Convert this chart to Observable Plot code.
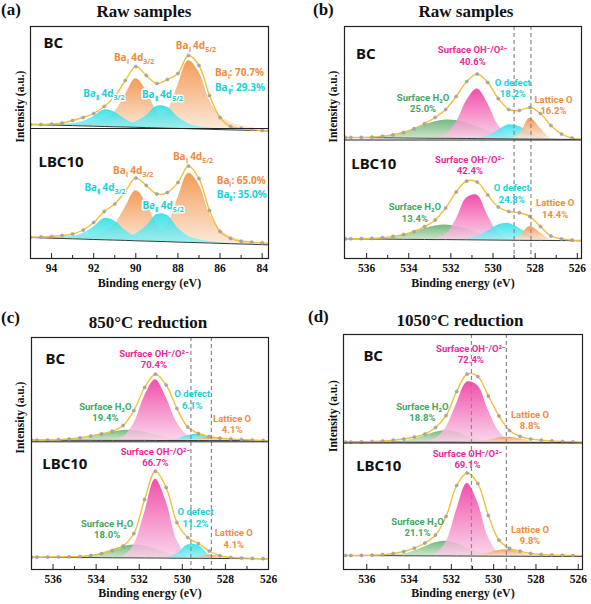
<!DOCTYPE html>
<html><head><meta charset="utf-8">
<script src="https://cdn.jsdelivr.net/npm/d3@7"></script>
<script src="https://cdn.jsdelivr.net/npm/@observablehq/plot@0.6"></script>
<style>
body{margin:0;background:#fff}
#fig{position:relative;width:591px;height:604px;overflow:hidden}
.panel{position:absolute}
.ttl{position:absolute;font-family:'Liberation Serif','Times New Roman',serif;font-weight:bold;font-size:17px;line-height:1;white-space:nowrap;color:#111}
.ctr{transform:translateX(-50%)}
</style></head><body>
<svg width="0" height="0" style="position:absolute"><defs>
<linearGradient id="gOrange" x1="0" y1="0" x2="0" y2="1"><stop offset="0" stop-color="#f28a3c"/><stop offset="1" stop-color="#fde7d6"/></linearGradient>
<linearGradient id="gPink" x1="0" y1="0" x2="0" y2="1"><stop offset="0" stop-color="#ef319c"/><stop offset="1" stop-color="#f9d0e8"/></linearGradient>
<linearGradient id="gGreen" x1="0" y1="0" x2="0" y2="1"><stop offset="0" stop-color="#5dab69"/><stop offset="1" stop-color="#c7e4c4"/></linearGradient>
<linearGradient id="gCyan" x1="0" y1="0" x2="0" y2="1"><stop offset="0" stop-color="#22dde6"/><stop offset="1" stop-color="#9cf0f3"/></linearGradient>
</defs></svg>
<div id="fig">
  <div class="ttl" style="left:1px;top:1px">(a)</div>
  <div class="ttl ctr" style="left:144px;top:3px">Raw samples</div>
  <div class="ttl" style="left:313px;top:1px">(b)</div>
  <div class="ttl ctr" style="left:466px;top:3px">Raw samples</div>
  <div class="ttl" style="left:1px;top:309px">(c)</div>
  <div class="ttl ctr" style="left:148px;top:314px">850°C reduction</div>
  <div class="ttl" style="left:308px;top:308px">(d)</div>
  <div class="ttl ctr" style="left:460px;top:312px">1050°C reduction</div>
</div>
<script>
// ---------- binding-energy grids ----------
const aE = [95,94.5,94,93.5,93,92.5,92,91.5,91,90.5,90,89.5,89,88.5,88,87.5,87,86.5,86,85.5,85,84.5,84,83.5];
const oE = [537,536.75,536.25,535.75,535.25,534.75,534.25,533.75,533.25,532.75,532.25,531.75,531.25,530.75,530.25,529.75,529.25,528.75,528.25,527.75,527.25,526.75,526.25,525.75];

// ---------- (a) Ba 4d, raw samples ----------
const aBC_base   = [134,133.7,133.4,133.2,132.9,132.6,132.3,132,131.7,131.5,131.2,130.9,130.6,130.3,130.1,129.8,129.5,129.2,128.9,128.6,128.4,128.1,127.8,127.5];
const aBC_env    = [134,134,134.5,135.5,138,141,145,152,162,178,192,183,175,179,185,203,193,163,141,132,130,129,128,127.5];
const aBC_BaI52  = [0,0,0,0,0,0,0.5,0.7,1,2,3,5,7,17,43,68,57,29,14,7.5,4.5,2.5,1.5,1];
const aBC_BaI32  = [0,0.3,0.5,0.8,1.2,1.9,3.5,7,15,32,48.5,37,16,7,4.5,2.5,1.5,0.8,0.5,0.3,0,0,0,0];
const aBC_BaII32 = [0.2,0.35,0.6,1.1,2,4.4,9.6,16.5,14.6,7.7,3.3,1.6,0.9,0.5,0.3,0.2,0,0,0,0,0,0,0,0];
const aBC_BaII52 = [0,0,0,0,0,0,0.5,0.8,1.4,2.5,5.5,12,21.7,21,11.4,5,2.4,1.3,0.7,0.4,0.25,0,0,0];
const aLBC_base   = [21,20.7,20.3,20,19.7,19.4,19,18.7,18.4,18.1,17.7,17.4,17.1,16.8,16.4,16.1,15.8,15.5,15.1,14.8,14.5,14.2,13.8,13.5];
const aLBC_env    = [21.2,21.5,22,23,24.5,28.5,36,47,54.5,67,80.5,73,64.5,66,76,92.5,80,48,27,20,17.2,16.3,15.6,15];
const aLBC_BaI52  = [0,0,0,0,0,0,0.5,0.7,1,2,3,5,7,17,44,69,58,29.5,14,7.5,4.5,2.5,1.5,1];
const aLBC_BaI32  = [0,0.3,0.5,0.8,1.2,2,3.6,7.2,15.5,33,50,38,16.5,7.2,4.6,2.6,1.5,0.8,0.5,0.3,0,0,0,0];
const aLBC_BaII32 = [0.3,0.45,0.8,1.4,2.6,5.7,12.4,21.3,18.9,10,4.3,2.1,1.2,0.6,0.4,0.25,0,0,0,0,0,0,0,0];
const aLBC_BaII52 = [0,0,0,0,0,0,0.6,1,1.7,3.1,6.9,15,27,26.2,14.2,6.2,3,1.6,0.9,0.5,0.3,0,0,0];

// ---------- (b) O 1s, raw samples ----------
const bBC_base   = [121,121,120.9,120.8,120.7,120.6,120.5,120.4,120.3,120.2,120.2,120.1,120,119.9,119.8,119.7,119.6,119.5,119.4,119.4,119.3,119.2,119.1,119];
const bBC_env    = [121,121,121.1,121.4,122.2,123.6,126,129.8,135,141,149,162,177,184.5,176,160,149,148,151,145,133,124.5,120.5,119.3];
const bBC_green  = [0,0.1,0.2,0.6,1.5,3.1,5.7,9.2,13.2,16.5,18.3,17.8,15.3,11.6,7.7,4.5,2.3,1.1,0.4,0.15,0,0,0,0];
const bBC_pink   = [0,0,0,0,0,0,0,0,0,0.4,3.5,15.6,37.7,49.5,35,13.5,2.8,0.3,0,0,0,0,0,0];
const bBC_cyan   = [0,0,0,0,0,0,0,0,0,0,0,0,0,0.5,2.8,8.6,14.1,12.5,6,1.5,0.2,0,0,0];
const bBC_orange = [0,0,0,0,0,0,0,0,0,0,0,0,0,0,0,0,0.1,4.6,20.9,10.9,0.7,0,0,0];
const bLBC_base   = [19.7,19.7,19.6,19.5,19.4,19.3,19.2,19.1,19,18.9,18.9,18.8,18.7,18.6,18.5,18.4,18.3,18.2,18.1,18.1,18,17.9,17.8,17.7];
const bLBC_env    = [19.7,19.75,19.9,20.1,20.8,22.1,24,27,31.8,38.5,50.5,66.5,77.5,76.5,63.5,51.5,47,45.8,42,32,22.5,19.6,18.4,18];
const bLBC_green  = [0,0,0.1,0.4,1,2.2,4.4,7.5,10.8,13.5,14.5,13.3,10.5,7,4.1,2,0.9,0.3,0.1,0,0,0,0,0];
const bLBC_pink   = [0,0,0,0,0,0,0,0,0,0.7,5,20.2,41.7,44.6,24.6,7,1,0,0,0,0,0,0,0];
const bLBC_cyan   = [0,0,0,0,0,0,0,0,0,0,0,0.1,0.9,3.4,8.9,15.1,16.8,12.1,5.7,1.8,0.4,0,0,0];
const bLBC_orange = [0,0,0,0,0,0,0,0,0,0,0,0,0,0,0,0,0.1,3.8,14,7.6,0.6,0,0,0];

// ---------- (c) O 1s, 850°C reduction ----------
const cBC_base   = [129.3,129.3,129.3,129.2,129.2,129.2,129.2,129.1,129.1,129.1,129.1,129.1,129,129,129,129,129,128.9,128.9,128.9,128.9,128.8,128.8,128.8];
const cBC_env    = [129.3,129.3,129.4,129.8,130.5,131.7,133.5,135.7,138.3,144,159,182,195.3,184.5,161,142.5,136,133,131.3,130.5,130,129.5,129,128.8];
const cBC_green  = [0,0,0,0.1,0.5,1.3,2.9,5.4,8.2,10,10,8.2,5.4,2.9,1.3,0.5,0.1,0,0,0,0,0,0,0];
const cBC_pink   = [0,0,0,0,0,0,0,0,0.3,3.2,16.6,44.2,60.7,43.1,18,5,1,0,0,0,0,0,0,0];
const cBC_cyan   = [0,0,0,0,0,0,0,0,0,0,0,0,0,0.1,1.2,4.9,6.2,2.5,0.3,0,0,0,0,0];
const cBC_orange = [0,0,0,0,0,0,0,0,0,0,0,0,0,0,0,0.2,1.5,3.2,2.3,0.5,0,0,0,0];
const cLBC_base   = [12.3,12.2,12.2,12.1,12,11.9,11.9,11.8,11.7,11.7,11.6,11.5,11.5,11.4,11.3,11.2,11.2,11.1,11,11,10.9,10.8,10.8,10.7];
const cLBC_env    = [12.3,12.3,12.4,12.5,12.7,13,14,15.9,19,23.5,36,70,98.3,82,47,32,26,18.5,13.8,12,11.5,11.1,10.8,10.7];
const cLBC_green  = [0,0,0,0,0.2,0.7,2,4.5,8,11.4,13,11.9,8.7,5.1,2.4,0.9,0.3,0.1,0,0,0,0,0,0];
const cLBC_pink   = [0,0,0,0,0,0,0,0,0.1,1.5,12.9,45,78.7,56.7,18,2.5,0.2,0,0,0,0,0,0,0];
const cLBC_cyan   = [0,0,0,0,0,0,0,0,0,0,0,0,0,0.5,4.5,13.4,12.8,3.8,0.4,0,0,0,0,0];
const cLBC_orange = [0,0,0,0,0,0,0,0,0,0,0,0,0,0,0,0.1,1.1,2.9,2.3,0.6,0,0,0,0];

// ---------- (d) O 1s, 1050°C reduction ----------
const dBC_base   = [127.5,127.5,127.5,127.4,127.4,127.4,127.4,127.3,127.3,127.3,127.3,127.3,127.2,127.2,127.2,127.2,127.2,127.1,127.1,127.1,127.1,127,127,127];
const dBC_env    = [127.5,127.5,127.6,128,128.5,129.3,130.5,132.5,135.5,142,154,178,195.5,193,173.5,153.5,139,133,130.5,129.3,128.6,128,127.6,127.2];
const dBC_green  = [0,0,0,0,0.1,0.3,1.2,3.2,6.5,10,11.5,10,6.5,3.2,1.2,0.3,0.1,0,0,0,0,0,0,0];
const dBC_pink   = [0,0,0,0,0,0,0,0,0.5,3.4,14.7,38.4,60.2,56.6,32,10.9,2.2,0.3,0,0,0,0,0,0];
const dBC_orange = [0,0,0,0,0,0,0,0,0,0,0,0,0.1,0.5,1.9,4.3,5.1,3.3,1.2,0.2,0,0,0,0];
const dLBC_base   = [14,14,13.9,13.9,13.8,13.8,13.7,13.7,13.6,13.6,13.6,13.5,13.5,13.4,13.4,13.3,13.3,13.3,13.2,13.2,13.1,13.1,13,13];
const dLBC_env    = [14,14,14.1,14.3,14.8,16,18,21.3,26.5,34.5,53,84,96.5,86,54,29.5,21.2,18.3,16,15,14.5,14.2,14,13.8];
const dLBC_green  = [0,0,0,0,0.2,0.6,2,4.9,9.2,13.2,14.7,12.5,8.2,4.2,1.6,0.5,0.1,0,0,0,0,0,0,0];
const dLBC_pink   = [0,0,0,0,0,0,0,0,0.1,1.9,13.6,45.9,72.4,53.4,18.5,3,0.2,0,0,0,0,0,0,0];
const dLBC_orange = [0,0,0,0,0,0,0,0,0,0,0,0,0.1,0.8,3,5.8,6.2,3.6,1.1,0.2,0,0,0,0];

// ---------- ticks, reference lines ----------
const baMajor = [94,92,90,88,86,84], baMinor = [93,91,89,87,85];
const oMajor = [536,534,532,530,528,526], oMinor = [535,533,531,529,527];
const bDashes = [529.0, 528.2], cDashes = [529.6, 528.65], dDashes = [531.05, 529.4];

// ---------- annotations ----------
const aSampleLabels = [{x:94.38,y:211,t:"BC"},{x:94.62,y:92,t:"LBC10"}];
const bSampleLabels = [{x:536.5,y:200,t:"BC"},{x:536.73,y:90,t:"LBC10"}];
const cSampleLabels = [{x:536.35,y:206,t:"BC"},{x:536.5,y:101,t:"LBC10"}];
const dSampleLabels = [{x:536.16,y:209,t:"BC"},{x:536.5,y:99,t:"LBC10"}];

const aPeakLabels = [
  {x:90.06,y:201,c:"orange",a:"middle",parts:[["Ba"],["Ⅰ",1],[" 4d"],["3/2",1]]},
  {x:87.12,y:213,c:"orange",a:"middle",parts:[["Ba"],["Ⅰ",1],[" 4d"],["5/2",1]]},
  {x:91.49,y:165,c:"cyan",a:"middle",halo:1,parts:[["Ba"],["Ⅱ",1],[" 4d"],["3/2",1]]},
  {x:88.71,y:164,c:"cyan",a:"middle",halo:1,parts:[["Ba"],["Ⅱ",1],[" 4d"],["5/2",1]]},
  {x:86.22,y:186,c:"orange",a:"start",parts:[["Ba"],["Ⅰ",1],[": 70.7%"]]},
  {x:86.22,y:171,c:"cyan",a:"start",parts:[["Ba"],["Ⅱ",1],[": 29.3%"]]},
  {x:90.1,y:88,c:"orange",a:"middle",parts:[["Ba"],["Ⅰ",1],[" 4d"],["3/2",1]]},
  {x:87.26,y:102,c:"orange",a:"middle",parts:[["Ba"],["Ⅰ",1],[" 4d"],["5/2",1]]},
  {x:91.44,y:71,c:"cyan",a:"middle",halo:1,parts:[["Ba"],["Ⅱ",1],[" 4d"],["3/2",1]]},
  {x:88.68,y:53,c:"cyan",a:"middle",halo:1,parts:[["Ba"],["Ⅱ",1],[" 4d"],["5/2",1]]},
  {x:86.13,y:78,c:"orange",a:"start",parts:[["Ba"],["Ⅰ",1],[": 65.0%"]]},
  {x:86.13,y:64,c:"cyan",a:"start",parts:[["Ba"],["Ⅱ",1],[": 35.0%"]]}
];
const bPeakLabels = [
  {x:530.97,y:203.3,c:"pink",t:"Surface OH⁻/O²⁻\n40.6%"},
  {x:529.06,y:170.8,c:"cyan",t:"O defect\n18.2%"},
  {x:527.13,y:153.8,c:"orange",t:"Lattice O\n16.2%"},
  {x:533.32,y:155.8,c:"green",t:"Surface H₂O\n25.0%"},
  {x:531.1,y:93.8,c:"pink",t:"Surface OH⁻/O²⁻\n42.4%"},
  {x:529.11,y:65.5,c:"cyan",t:"O defect\n24.8%"},
  {x:527.05,y:50.5,c:"orange",t:"Lattice O\n14.4%"},
  {x:533.71,y:46,c:"green",t:"Surface H₂O\n13.4%"}
];
const cPeakLabels = [
  {x:531.32,y:210.7,c:"pink",t:"Surface OH⁻/O²⁻\n70.4%"},
  {x:529.54,y:170.2,c:"cyan",t:"O defect\n6.1%"},
  {x:527.69,y:145.7,c:"orange",t:"Lattice O\n4.1%"},
  {x:533.57,y:157.8,c:"green",t:"Surface H₂O\n19.4%"},
  {x:531.25,y:112.7,c:"pink",t:"Surface OH⁻/O²⁻\n66.7%"},
  {x:529.39,y:52.3,c:"cyan",t:"O defect\n11.2%"},
  {x:527.61,y:31.2,c:"orange",t:"Lattice O\n4.1%"},
  {x:533.49,y:40.7,c:"green",t:"Surface H₂O\n18.0%"}
];
const dPeakLabels = [
  {x:531.08,y:215.7,c:"pink",t:"Surface OH⁻/O²⁻\n72.4%"},
  {x:533.37,y:157.8,c:"green",t:"Surface H₂O\n18.8%"},
  {x:528.28,y:149.8,c:"orange",t:"Lattice O\n8.8%"},
  {x:531.24,y:110.7,c:"pink",t:"Surface OH⁻/O²⁻\n69.1%"},
  {x:533.6,y:42.7,c:"green",t:"Surface H₂O\n21.1%"},
  {x:528.28,y:34.8,c:"orange",t:"Lattice O\n9.8%"}
];

// ---------- styling ----------
const SERIF = "'Liberation Serif','Times New Roman',serif";
const SANS = "'Noto Sans','Liberation Sans',Arial,sans-serif";
const LABSANS = "Roboto,'Liberation Sans',Arial,sans-serif";
const TEXTC = {orange:"#f28b3d", cyan:"#1ccfd9", pink:"#ec2a9c", green:"#3fa864"};
const FILLC = {orange:"url(#gOrange)", cyan:"url(#gCyan)", pink:"url(#gPink)", green:"url(#gGreen)"};

function compRows(E, base, h) { return E.map((x, i) => ({x, y1: base[i], y2: base[i] + h[i]})); }
function lineRows(E, v) { return E.map((x, i) => ({x, y: v[i]})); }

function richLabels(list) {
  return (index, scales) => {
    const g = d3.create("svg:g").attr("font-family", SANS).attr("font-weight", "bold").attr("font-size", 10);
    for (const L of list) {
      const t = g.append("text").attr("x", scales.x(L.x)).attr("y", scales.y(L.y)).attr("dy", "0.35em")
        .attr("text-anchor", L.a).attr("fill", TEXTC[L.c]);
      if (L.halo) t.attr("stroke", "#fff").attr("stroke-width", 3).attr("paint-order", "stroke").attr("stroke-linejoin", "round");
      let down = false;
      for (const [s, sub] of L.parts) {
        const sp = t.append("tspan").text(s);
        if (sub && !down) { sp.attr("font-size", 7).attr("dy", 3); down = true; }
        else if (sub) { sp.attr("font-size", 7); }
        else if (down) { sp.attr("dy", -3); down = false; }
      }
    }
    return g.node();
  };
}

function makePanel(cfg) {
  const marks = [];
  for (const s of cfg.samples) {
    for (const c of s.comps) {
      marks.push(Plot.areaY(compRows(cfg.E, s.base, c.h), {x: "x", y1: "y1", y2: "y2", fill: FILLC[c.color], fillOpacity: 0.85, curve: "catmull-rom", clip: true}));
    }
    marks.push(Plot.line(lineRows(cfg.E, s.base), {x: "x", y: "y", stroke: "#343c34", strokeWidth: 1, clip: true}));
    marks.push(Plot.line(lineRows(cfg.E, s.env), {x: "x", y: "y", stroke: "#f2c03a", strokeWidth: 1.4, curve: "catmull-rom", clip: true}));
    marks.push(Plot.dot(lineRows(cfg.E, s.env), {x: "x", y: "y", r: 1.6, fill: "#a9a9a9", stroke: "#8c8c8c", strokeWidth: 0.4, clip: true}));
  }
  if (cfg.dashes) marks.push(Plot.ruleX(cfg.dashes, {stroke: "#8a8a8a", strokeWidth: 1.2, strokeDasharray: "4,3"}));
  marks.push(Plot.ruleY([cfg.sep], {stroke: "#222", strokeWidth: 1}));
  marks.push(Plot.frame({stroke: "#222", strokeWidth: 1.2}));
  marks.push(Plot.axisX(cfg.major, {tickSize: -5, fill: "none", stroke: "#222", label: null}));
  marks.push(Plot.axisX(cfg.minor, {tickSize: -3, fill: "none", stroke: "#222", label: null}));
  marks.push(Plot.axisX(cfg.major, {tickSize: 0, tickPadding: 5, fontFamily: SERIF, fontWeight: "bold", fontSize: 11.5, fill: "#111", label: null}));
  marks.push(Plot.text(["Binding energy (eV)"], {frameAnchor: "bottom", dy: cfg.xLabelDy, fontFamily: SERIF, fontWeight: "bold", fontSize: 12, fill: "#111"}));
  marks.push(Plot.text(["Intensity (a.u.)"], {frameAnchor: "left", rotate: -90, dx: cfg.yLabelDx, fontFamily: SERIF, fontWeight: "bold", fontSize: 11.5, fill: "#111"}));
  marks.push(Plot.text(cfg.sampleLabels, {x: "x", y: "y", text: "t", textAnchor: "start", lineAnchor: "bottom", fontFamily: SANS, fontWeight: "bold", fontSize: 15, fill: "#111"}));
  if (cfg.rich) marks.push(richLabels(cfg.rich));
  if (cfg.labels) {
    for (const col of ["green", "pink", "cyan", "orange"]) {
      const L = cfg.labels.filter(d => d.c === col);
      if (L.length) marks.push(Plot.text(L, {x: "x", y: "y", text: "t", fill: TEXTC[col], fontFamily: LABSANS, fontWeight: "bold", fontSize: 9.5, lineHeight: 1.24}));
    }
  }
  const svg = Plot.plot({
    width: cfg.w, height: 302,
    marginLeft: cfg.m[0], marginRight: cfg.m[1], marginTop: cfg.m[2], marginBottom: cfg.m[3],
    x: {domain: cfg.xDomain, axis: null},
    y: {domain: [0, cfg.yMax], axis: null},
    style: {background: "transparent", overflow: "visible"},
    marks
  });
  const div = document.createElement("div");
  div.className = "panel";
  div.style.left = cfg.left + "px";
  div.style.top = cfg.top + "px";
  div.appendChild(svg);
  document.getElementById("fig").appendChild(div);
}

makePanel({
  left: 0, top: 0, w: 295, m: [30, 27, 26, 44], xDomain: [95, 83.7], yMax: 232, E: aE, sep: 130,
  major: baMajor, minor: baMinor, xLabelDy: 28, yLabelDx: -10, sampleLabels: aSampleLabels, rich: aPeakLabels,
  samples: [
    {base: aBC_base, env: aBC_env, comps: [
      {color: "orange", h: aBC_BaI32}, {color: "orange", h: aBC_BaI52}, {color: "cyan", h: aBC_BaII32}, {color: "cyan", h: aBC_BaII52}]},
    {base: aLBC_base, env: aLBC_env, comps: [
      {color: "orange", h: aLBC_BaI32}, {color: "orange", h: aLBC_BaI52}, {color: "cyan", h: aLBC_BaII32}, {color: "cyan", h: aLBC_BaII52}]}
  ]
});
makePanel({
  left: 295, top: 0, w: 296, m: [49, 10, 26, 44], xDomain: [537.05, 525.8], yMax: 232, E: oE, sep: 118.5, dashes: bDashes,
  major: oMajor, minor: oMinor, xLabelDy: 28, yLabelDx: -11, sampleLabels: bSampleLabels, labels: bPeakLabels,
  samples: [
    {base: bBC_base, env: bBC_env, comps: [
      {color: "green", h: bBC_green}, {color: "pink", h: bBC_pink}, {color: "cyan", h: bBC_cyan}, {color: "orange", h: bBC_orange}]},
    {base: bLBC_base, env: bLBC_env, comps: [
      {color: "green", h: bLBC_green}, {color: "pink", h: bLBC_pink}, {color: "cyan", h: bLBC_cyan}, {color: "orange", h: bLBC_orange}]}
  ]
});
makePanel({
  left: 0, top: 302, w: 295, m: [31, 27, 35, 35], xDomain: [537, 526], yMax: 232, E: oE, sep: 127.7, dashes: cDashes,
  major: oMajor, minor: oMinor, xLabelDy: 27, yLabelDx: -11, sampleLabels: cSampleLabels, labels: cPeakLabels,
  samples: [
    {base: cBC_base, env: cBC_env, comps: [
      {color: "green", h: cBC_green}, {color: "pink", h: cBC_pink}, {color: "cyan", h: cBC_cyan}, {color: "orange", h: cBC_orange}]},
    {base: cLBC_base, env: cLBC_env, comps: [
      {color: "green", h: cLBC_green}, {color: "pink", h: cLBC_pink}, {color: "cyan", h: cLBC_cyan}, {color: "orange", h: cLBC_orange}]}
  ]
});
makePanel({
  left: 295, top: 302, w: 296, m: [48, 9, 32, 35], xDomain: [537.1, 525.8], yMax: 235, E: oE, sep: 126.5, dashes: dDashes,
  major: oMajor, minor: oMinor, xLabelDy: 27, yLabelDx: -10, sampleLabels: dSampleLabels, labels: dPeakLabels,
  samples: [
    {base: dBC_base, env: dBC_env, comps: [
      {color: "green", h: dBC_green}, {color: "pink", h: dBC_pink}, {color: "orange", h: dBC_orange}]},
    {base: dLBC_base, env: dLBC_env, comps: [
      {color: "green", h: dLBC_green}, {color: "pink", h: dLBC_pink}, {color: "orange", h: dLBC_orange}]}
  ]
});
</script></body></html>
